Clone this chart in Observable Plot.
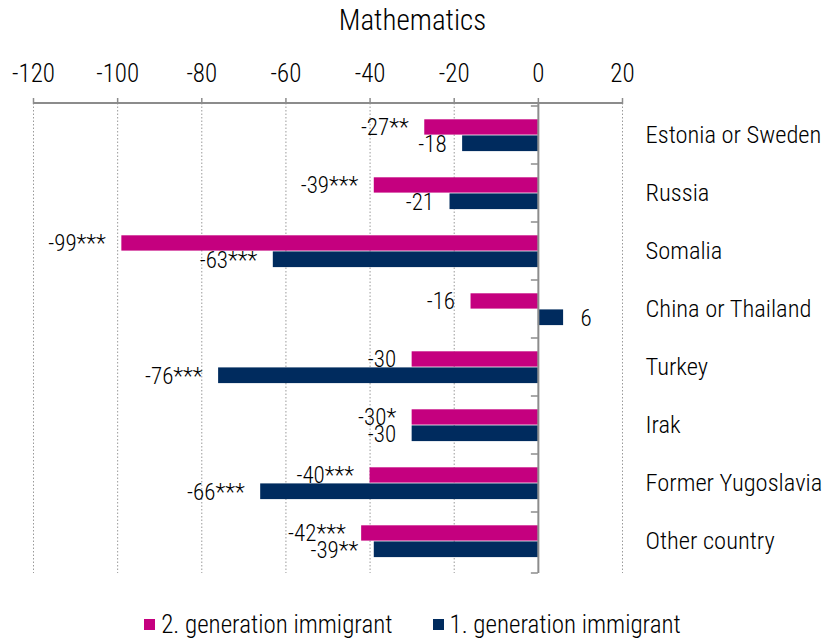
<!DOCTYPE html>
<html><head><meta charset="utf-8">
<script src="https://cdn.jsdelivr.net/npm/d3@7"></script>
<script src="https://cdn.jsdelivr.net/npm/@observablehq/plot@0.6"></script>
<style>
  body { margin:0; background:#fff; font-family:'Roboto Condensed','Liberation Sans Narrow',Lato,sans-serif; color:#000; }
  #title { height:40px; line-height:40px; text-align:center; font-size:29px; font-weight:300; }
  #legend { height:30px; padding-top:5px; display:flex; justify-content:center; align-items:center; font-size:25px; font-weight:300; }
  .item { display:flex; align-items:center; margin:0 20px; }
  .sw { width:11px; height:11px; margin-right:6px; }
</style></head><body>
<div id="title">Mathematics</div>
<div id="chart"></div>
<div id="legend"></div>
<script>
const categories = ["Estonia or Sweden","Russia","Somalia","China or Thailand","Turkey","Irak","Former Yugoslavia","Other country"];
const seriesNames = ["2. generation immigrant","1. generation immigrant"];
const gen2 = [-27,-39,-99,-16,-30,-30,-40,-42];
const sig2 = ["**","***","***","","","*","***","***"];
const gen1 = [-18,-21,-63,6,-76,-30,-66,-39];
const sig1 = ["","","***","","***","","***","**"];
const xTicks = [-120,-100,-80,-60,-40,-20,0,20];
const colors = ["#c5007f","#002b5e"];

const r2 = categories.map((c,i)=>({cat:c, series:seriesNames[0], value:gen2[i], label:String(gen2[i])+sig2[i]}));
const r1 = categories.map((c,i)=>({cat:c, series:seriesNames[1], value:gen1[i], label:String(gen1[i])+sig1[i]}));

const font = "'Roboto Condensed','Liberation Sans Narrow',Lato,sans-serif";

const decor = (index, scales, values, dims) => {
  const g = d3.create("svg:g");
  const x = scales.x, y = scales.y;
  const top = dims.marginTop, bottom = dims.height - dims.marginBottom;
  g.append("line").attr("x1", x(-120)).attr("x2", x(20)).attr("y1", top).attr("y2", top)
    .attr("stroke","#8c8c8c").attr("stroke-width",2);
  const ys = categories.map(c => y(c)).concat([bottom]);
  for (const yy of ys) {
    g.append("line").attr("x1", x(0)-7).attr("x2", x(0)).attr("y1", yy).attr("y2", yy)
      .attr("stroke","#8c8c8c").attr("stroke-width",1.5);
  }
  return g.node();
};

const plot = Plot.plot({
  width: 825, height: 564,
  marginTop: 63, marginBottom: 31, marginLeft: 33, marginRight: 203,
  style: {fontFamily: font, fontSize: "24px", fontWeight: 300, color: "#000", background: "#fff"},
  x: {domain: [-120, 20], label: null},
  y: {domain: categories, padding: 0, label: null},
  color: {domain: seriesNames, range: colors},
  marks: [
    Plot.ruleX(xTicks.filter(t => t !== 0), {stroke: "#9a9a9a", strokeDasharray: "1.5,2", strokeWidth: 1}),
    Plot.barX(r2, {x1: 0, x2: "value", y: "cat", fill: "series", insetTop: 13.3, insetBottom: 29.4}),
    Plot.barX(r1, {x1: 0, x2: "value", y: "cat", fill: "series", insetTop: 29.4, insetBottom: 12.9}),
    Plot.ruleX([0], {stroke: "#8c8c8c", strokeWidth: 2}),
    decor,
    Plot.axisX(xTicks, {anchor: "top", label: null, tickSize: 6, tickPadding: 16, stroke: "#8c8c8c", strokeWidth: 1.5, fill: "#000", fontSize: 25, tickFormat: d => String(d)}),
    Plot.axisY({anchor: "right", label: null, tickSize: 0, tickPadding: 23, fontSize: 24.5, fill: "#000"}),
    Plot.text(r2.filter(d => d.value < 0), {x: "value", y: "cat", text: "label", textAnchor: "end", dx: -16, dy: -8, fontSize: 23, fill: "#000"}),
    Plot.text(r2.filter(d => d.value >= 0), {x: "value", y: "cat", text: "label", textAnchor: "start", dx: 17, dy: -8, fontSize: 23, fill: "#000"}),
    Plot.text(r1.filter(d => d.value < 0), {x: "value", y: "cat", text: "label", textAnchor: "end", dx: -16, dy: 9, fontSize: 23, fill: "#000"}),
    Plot.text(r1.filter(d => d.value >= 0), {x: "value", y: "cat", text: "label", textAnchor: "start", dx: 17, dy: 9, fontSize: 23, fill: "#000"})
  ]
});
document.getElementById("chart").appendChild(plot);

const legend = d3.select("#legend");
seriesNames.forEach((s, i) => {
  const it = legend.append("div").attr("class", "item");
  it.append("div").attr("class", "sw").style("background", colors[i]);
  it.append("span").text(s);
});
</script>
</body></html>
